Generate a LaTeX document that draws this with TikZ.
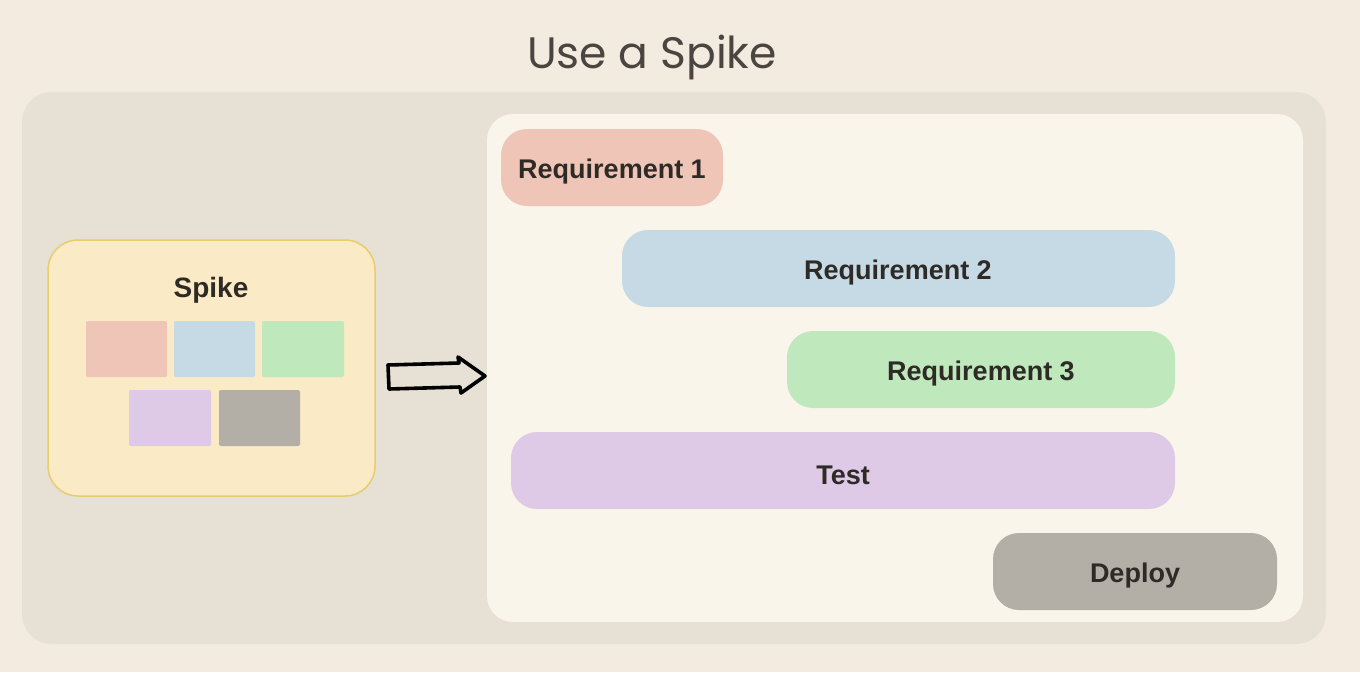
\documentclass[tikz,border=0pt]{standalone}
\usepackage{fontspec}
\setmainfont{Liberation Sans}
\newfontfamily\titlefont{Poppins}
\definecolor{bgc}{HTML}{F3EBDF}
\definecolor{outerc}{HTML}{E6E0D5}
\definecolor{innerc}{HTML}{FAF5EB}
\definecolor{spikefill}{HTML}{FAEBC6}
\definecolor{spikedraw}{HTML}{E6CD6E}
\definecolor{redc}{HTML}{EFC5B8}
\definecolor{bluec}{HTML}{C6DAE6}
\definecolor{greenc}{HTML}{BFE9BC}
\definecolor{purplec}{HTML}{DEC9E6}
\definecolor{grayc}{HTML}{B3AFA7}
\definecolor{textc}{HTML}{2E2A26}
\definecolor{titlec}{HTML}{4A4540}
\tikzset{
  pill/.style={rounded corners=26pt, inner sep=0pt},
  pilltext/.style={font=\fontsize{27}{30}\selectfont\bfseries, text=textc},
  tile/.style={rounded corners=2pt},
}
\begin{document}
\begin{tikzpicture}[x=1pt,y=-1pt]
\fill[bgc] (0,0) rectangle (1360,672);
\useasboundingbox (0,0) rectangle (1360,672);
\node[font=\titlefont\fontsize{44}{50}\selectfont, text=titlec] (title) at (652,57) {Use a Spike};
\fill[outerc, rounded corners=30pt] (22,92) rectangle (1326,644);
\fill[innerc, rounded corners=26pt] (487,114) rectangle (1303,622);
% spike box
\draw[fill=spikefill, draw=spikedraw, line width=1.5pt, rounded corners=30pt] (48,240) rectangle (375,496);
\node[font=\fontsize{28}{32}\selectfont\bfseries, text=textc] (spike) at (211,290) {Spike};
\fill[redc, tile] (86,321) rectangle (167,377);
\fill[bluec, tile] (174,321) rectangle (255,377);
\fill[greenc, tile] (262,321) rectangle (344,377);
\fill[purplec, tile] (129,390) rectangle (211,446);
\fill[grayc, tile] (219,390) rectangle (300,446);
% arrow
\draw[black, line width=3.6pt, line join=round, line cap=round]
  (388,365) -- (459,363) -- (458,357) -- (485,376) -- (461,393) -- (460,387) -- (389,389) -- cycle;
% pills
\fill[redc, pill] (501,129) rectangle (723,206);
\node[pilltext] (r1) at (612,172) {Requirement 1};
\fill[bluec, pill] (622,230) rectangle (1175,307);
\node[pilltext] (r2) at (898,273) {Requirement 2};
\fill[greenc, pill] (787,331) rectangle (1175,408);
\node[pilltext] (r3) at (981,374) {Requirement 3};
\fill[purplec, pill] (511,432) rectangle (1175,509);
\node[pilltext] (t) at (843,475) {Test};
\fill[grayc, pill] (993,533) rectangle (1277,610);
\node[pilltext] (d) at (1135,576) {Deploy};
\end{tikzpicture}
\end{document}
